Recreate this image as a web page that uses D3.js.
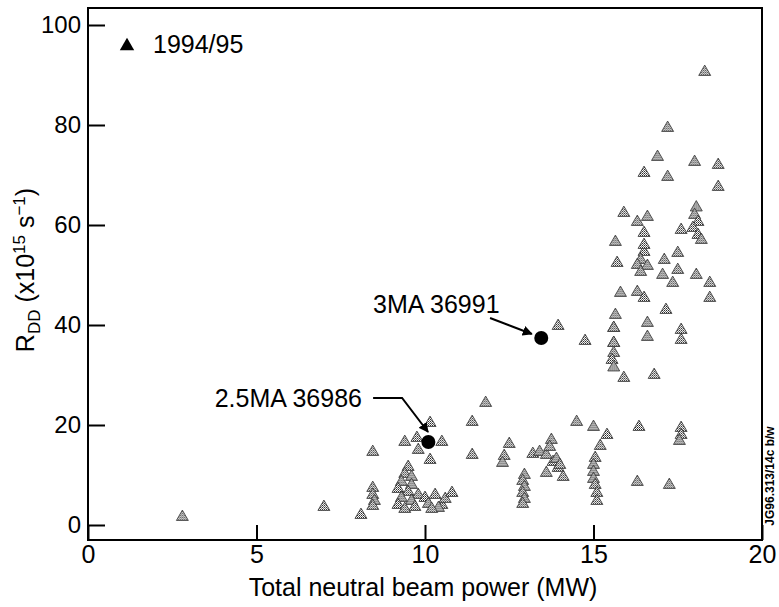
<!DOCTYPE html>
<html>
<head>
<meta charset="utf-8">
<script src="https://cdn.jsdelivr.net/npm/d3@7"></script>
<style>
    body { margin: 0; background: #fff; }
    svg { display: block; font-family: "Liberation Sans", Arial, sans-serif; }
</style>
</head>
<body>
<div id="chart"></div>
<script>
// 1994/95 discharges: neutral beam power (MW) and R_DD (x10^15 s^-1)
var powerMW = [
    2.8, 7.0, 8.1, 8.45, 8.45, 8.45, 8.5, 8.45,
    9.5, 9.4, 9.6, 9.3, 9.6, 9.2, 9.5, 9.8, 9.3, 9.6, 9.2, 9.7, 9.4,
    9.4, 9.76, 9.8, 10.15, 10.15, 10.5,
    10.0, 10.1, 10.3, 10.5, 10.6, 10.8, 10.4, 10.2,
    11.4, 11.4, 11.8, 12.5, 12.35, 12.3,
    12.95, 12.9, 12.95, 12.9, 12.95, 12.9,
    13.2, 13.4, 13.6, 13.75, 13.7, 13.8, 13.95, 13.6, 14.1, 13.9, 14.0,
    14.5, 15.0, 15.4, 15.2, 15.05, 15.0, 15.0, 15.0, 15.05, 15.1, 15.1,
    16.35, 16.3, 17.25, 17.6, 17.6, 17.55,
    13.95, 14.75, 15.6, 15.55, 15.6, 15.6, 15.6, 15.9, 16.8,
    15.65, 15.6, 15.6, 16.6, 16.6, 17.6, 17.6,
    15.8, 16.3, 16.5, 17.15, 18.45, 18.45, 17.35, 18.05,
    15.7, 17.05, 17.1, 17.5, 17.5,
    16.5, 16.4, 16.3, 16.6, 16.4,
    15.65, 16.5, 16.5,
    15.9, 16.3, 16.6, 17.6, 18.05, 18.0, 18.1, 17.95, 18.1, 18.2,
    18.3, 17.2, 16.9, 18.0, 18.7, 16.5, 17.2, 18.7
];
var rateDD = [
    1.6, 3.6, 2.0, 14.6, 7.4, 6.0, 4.8, 3.8,
    11.6, 10.2, 9.6, 8.6, 8.0, 7.2, 6.6, 6.0, 5.4, 4.8, 4.0, 3.6, 3.2,
    16.6, 17.4, 15.0, 20.4, 13.0, 16.6,
    5.4, 4.2, 6.0, 4.0, 5.2, 6.4, 3.4, 3.2,
    20.6, 14.0, 24.4, 16.2, 13.8, 12.4,
    10.0, 8.8, 7.6, 6.4, 5.2, 4.2,
    14.2, 14.6, 14.0, 17.0, 15.6, 12.6, 11.4, 10.4, 9.6, 13.2, 12.0,
    20.6, 19.6, 18.0, 15.8, 13.4, 12.0, 10.6, 9.2, 8.0, 6.4, 4.8,
    19.6, 8.6, 8.0, 19.4, 18.0, 16.8,
    39.8, 36.8, 34.4, 33.0, 31.5, 36.4, 39.4, 29.4, 30.0,
    42.0, 39.4, 36.4, 40.4, 37.6, 39.0, 37.0,
    46.4, 46.6, 45.4, 43.0, 48.4, 45.4, 48.4, 50.0,
    52.4, 50.0, 53.0, 54.4, 51.0,
    54.6, 53.0, 52.0, 51.8, 50.6,
    56.6, 58.4, 56.0,
    62.4, 60.6, 61.6, 59.0, 63.5, 62.0, 60.6, 59.4, 58.0, 57.0,
    90.6, 79.4, 73.6, 72.6, 72.0, 70.4, 69.6, 67.6
];

// highlighted shots
var shotNames = ['3MA 36991', '2.5MA 36986'];
var shotPower = [13.45, 10.1];
var shotRate = [37.4, 16.6];

var xTicks = [0, 5, 10, 15, 20];
var yTicks = [0, 20, 40, 60, 80, 100];

var width = 779, height = 607;

var svg = d3.select('#chart').append('svg')
    .attr('width', width)
    .attr('height', height);

var x = d3.scaleLinear().domain([0, 20]).range([88, 762]);
var y = d3.scaleLinear().domain([-3, 103.4]).range([540, 8]);

// halftone fill for the triangles
var pat = svg.append('defs').append('pattern')
    .attr('id', 'dots')
    .attr('width', 2).attr('height', 2)
    .attr('patternUnits', 'userSpaceOnUse');
pat.append('rect').attr('width', 2).attr('height', 2).attr('fill', '#fff');
pat.append('rect').attr('width', 1).attr('height', 1).attr('fill', '#222');
pat.append('rect').attr('x', 1).attr('y', 1).attr('width', 1).attr('height', 1).attr('fill', '#666');

svg.select('defs').append('marker')
    .attr('id', 'arrow')
    .attr('viewBox', '0 0 10 10')
    .attr('refX', 9).attr('refY', 5)
    .attr('markerWidth', 5).attr('markerHeight', 5)
    .attr('orient', 'auto')
    .append('path')
    .attr('d', 'M0,0 L10,5 L0,10 z')
    .attr('fill', '#000');

// axes
svg.append('g')
    .attr('transform', 'translate(' + x(0) + ',0)')
    .call(d3.axisLeft(y).tickValues(yTicks).tickSizeInner(-17).tickSizeOuter(0).tickPadding(7))
    .call(g => g.select('.domain').remove())
    .call(g => g.selectAll('line').attr('stroke-width', 2))
    .call(g => g.selectAll('text').attr('font-size', 24).attr('font-family', 'Liberation Sans, Arial, sans-serif').attr('fill', '#000'));

svg.append('g')
    .attr('transform', 'translate(0,' + y(-3) + ')')
    .call(d3.axisBottom(x).tickValues(xTicks).tickSizeInner(-15).tickSizeOuter(0).tickPadding(5))
    .call(g => g.select('.domain').remove())
    .call(g => g.selectAll('line').attr('stroke-width', 2))
    .call(g => g.selectAll('text').attr('font-size', 25).attr('font-family', 'Liberation Sans, Arial, sans-serif').attr('fill', '#000'));

// frame
svg.append('rect')
    .attr('x', x(0)).attr('y', y(103.4))
    .attr('width', x(20) - x(0))
    .attr('height', y(-3) - y(103.4))
    .attr('fill', 'none')
    .attr('stroke', '#000')
    .attr('stroke-width', 2);

// triangles
var tri = d3.symbol().type(d3.symbolTriangle).size(62);
svg.append('g')
    .selectAll('path')
    .data(d3.range(powerMW.length))
    .enter().append('path')
    .attr('d', tri)
    .attr('transform', i => 'translate(' + x(powerMW[i]) + ',' + y(rateDD[i]) + ')')
    .attr('fill', 'url(#dots)')
    .attr('stroke', '#333')
    .attr('stroke-width', 0.8);

// highlighted shots
svg.append('g')
    .selectAll('circle')
    .data(shotNames)
    .enter().append('circle')
    .attr('cx', (d, i) => x(shotPower[i]))
    .attr('cy', (d, i) => y(shotRate[i]))
    .attr('r', 7)
    .attr('fill', '#000');

var line = d3.line().x(d => x(d[0])).y(d => y(d[1]));
var arrows = [
    [[11.93, 41.4], [13.17, 38.2]],
    [[8.46, 25.4], [9.32, 25.4], [10.09, 18.6]]
];
svg.append('g')
    .selectAll('path')
    .data(arrows)
    .enter().append('path')
    .attr('d', line)
    .attr('fill', 'none')
    .attr('stroke', '#000')
    .attr('stroke-width', 2)
    .attr('marker-end', 'url(#arrow)');

svg.append('text')
    .attr('x', x(8.46)).attr('y', y(42.4))
    .attr('font-size', 25)
    .text(shotNames[0]);
svg.append('text')
    .attr('x', x(8.13)).attr('y', y(23.6))
    .attr('text-anchor', 'end')
    .attr('font-size', 25)
    .text(shotNames[1]);

// legend
svg.append('path')
    .attr('d', d3.symbol().type(d3.symbolTriangle).size(90))
    .attr('transform', 'translate(127,46)')
    .attr('fill', '#000');
svg.append('text')
    .attr('x', 153).attr('y', 53)
    .attr('font-size', 25)
    .text('1994/95');

// axis titles
svg.append('text')
    .attr('x', 423).attr('y', 596)
    .attr('text-anchor', 'middle')
    .attr('font-size', 25)
    .text('Total neutral beam power (MW)');

var yt = svg.append('text')
    .attr('transform', 'translate(34,270) rotate(-90)')
    .attr('text-anchor', 'middle')
    .attr('font-size', 25);
yt.append('tspan').text('R');
yt.append('tspan').attr('font-size', 17).attr('dy', 6).text('DD');
yt.append('tspan').attr('dy', -6).text(' (x10');
yt.append('tspan').attr('font-size', 17).attr('dy', -9).text('15');
yt.append('tspan').attr('dy', 9).text(' s');
yt.append('tspan').attr('font-size', 17).attr('dy', -9).text('\u22121');
yt.append('tspan').attr('dy', 9).text(')');

svg.append('text')
    .attr('transform', 'translate(774,476) rotate(-90)')
    .attr('text-anchor', 'middle')
    .attr('font-size', 12)
    .attr('font-weight', 'bold')
    .text('JG96.313/14c b/w');
</script>
</body>
</html>
